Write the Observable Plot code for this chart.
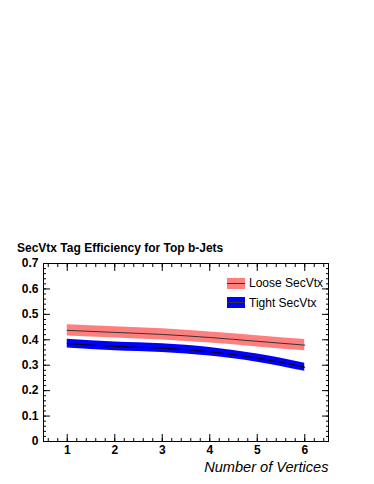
<!DOCTYPE html>
<html>
<head>
<meta charset="utf-8">
<script src="https://cdn.jsdelivr.net/npm/d3@7"></script>
<script src="https://cdn.jsdelivr.net/npm/@observablehq/plot@0.6"></script>
<style>
  html, body { margin: 0; padding: 0; background: #fff; }
  #wrap { position: relative; width: 374px; height: 484px; font-family: "Liberation Sans", Arial, Helvetica, sans-serif; }
  #title { position: absolute; left: 17px; top: 241px; font-size: 12px; font-weight: bold; color: #000; white-space: nowrap; }
  #legend { position: absolute; left: 227px; top: 277px; font-size: 12px; color: #000; }
  .item { display: flex; align-items: center; height: 12px; margin-bottom: 7.5px; white-space: nowrap; }
  .sw { width: 18px; height: 11px; margin-right: 4px; position: relative; }
  .sw::after { content: ""; position: absolute; left: 0; right: 0; top: 5px; height: 1px; background: #333; }
</style>
</head>
<body>
<div id="wrap">
  <div id="title"></div>
  <div id="legend"></div>
</div>
<script>
const titleText = "SecVtx Tag Efficiency for Top b-Jets";
const xLabel = "Number of Vertices";
const vertices = [1, 2, 3, 4, 5, 6];
const looseEff = [0.437, 0.429, 0.421, 0.409, 0.394, 0.379];
const looseErr = [0.022, 0.022, 0.022, 0.022, 0.022, 0.022];
const tightEff = [0.385, 0.374, 0.367, 0.353, 0.328, 0.292];
const tightErr = [0.017, 0.017, 0.017, 0.017, 0.016, 0.016];
const seriesNames = ["Loose SecVtx", "Tight SecVtx"];
const seriesColors = ["#ff7f7f", "#0000ff"];
const yMajor = [0, 0.1, 0.2, 0.3, 0.4, 0.5, 0.6, 0.7];
const xMajor = [1, 2, 3, 4, 5, 6];

const loose = vertices.map((v, i) => ({v, y: looseEff[i], lo: looseEff[i] - looseErr[i], hi: looseEff[i] + looseErr[i]}));
const tight = vertices.map((v, i) => ({v, y: tightEff[i], lo: tightEff[i] - tightErr[i], hi: tightEff[i] + tightErr[i]}));
const yMinor = d3.range(0, 0.7001, 0.02);
const xMinor = d3.range(0.6, 6.5, 0.2);
const curve = "monotone-x";
const font = {fontSize: 12, fontWeight: "bold", fill: "#000"};

const chart = Plot.plot({
  width: 374,
  height: 484,
  marginTop: 263,
  marginBottom: 43,
  marginLeft: 43,
  marginRight: 46,
  style: {fontFamily: '"Liberation Sans", Arial, Helvetica, sans-serif', background: "transparent", overflow: "visible"},
  x: {domain: [0.5, 6.5], axis: null, label: null},
  y: {domain: [0, 0.7], axis: null, label: null},
  marks: [
    Plot.areaY(loose, {x: "v", y1: "lo", y2: "hi", fill: seriesColors[0], curve}),
    Plot.line(loose, {x: "v", y: "y", stroke: "#333", strokeWidth: 1, curve}),
    Plot.areaY(tight, {x: "v", y1: "lo", y2: "hi", fill: seriesColors[1], curve}),
    Plot.line(tight, {x: "v", y: "y", stroke: "#000", strokeWidth: 1, curve}),
    Plot.axisY(yMajor, {anchor: "left", tickSize: -7, tickPadding: 12, tickFormat: d => d === 0 ? "0" : d.toFixed(1), label: null, stroke: "#000", ...font}),
    Plot.axisY(yMinor, {anchor: "left", tickSize: -3, text: null, label: null, stroke: "#000"}),
    Plot.axisY(yMajor, {anchor: "right", tickSize: -7, text: null, label: null, stroke: "#000"}),
    Plot.axisY(yMinor, {anchor: "right", tickSize: -3, text: null, label: null, stroke: "#000"}),
    Plot.axisX(xMajor, {anchor: "bottom", tickSize: -7, tickPadding: 11, tickFormat: d => String(d), label: null, stroke: "#000", ...font}),
    Plot.axisX(xMinor, {anchor: "bottom", tickSize: -3, text: null, label: null, stroke: "#000"}),
    Plot.axisX(xMajor, {anchor: "top", tickSize: -7, text: null, label: null, stroke: "#000"}),
    Plot.axisX(xMinor, {anchor: "top", tickSize: -3, text: null, label: null, stroke: "#000"}),
    Plot.frame({stroke: "#000", strokeWidth: 1}),
    Plot.text([xLabel], {frameAnchor: "bottom-right", dy: 30, text: d => d, fontSize: 14.6, fontStyle: "italic", textAnchor: "end", fill: "#000"})
  ]
});
chart.style.position = "absolute";
chart.style.left = "0px";
chart.style.top = "0px";
const wrap = document.getElementById("wrap");
wrap.insertBefore(chart, wrap.firstChild);
document.getElementById("title").textContent = titleText;
const legend = document.getElementById("legend");
seriesNames.forEach((name, i) => {
  const item = document.createElement("div");
  item.className = "item";
  const sw = document.createElement("span");
  sw.className = "sw";
  sw.style.background = seriesColors[i];
  const label = document.createElement("span");
  label.textContent = name;
  item.appendChild(sw);
  item.appendChild(label);
  legend.appendChild(item);
});
</script>
</body>
</html>
